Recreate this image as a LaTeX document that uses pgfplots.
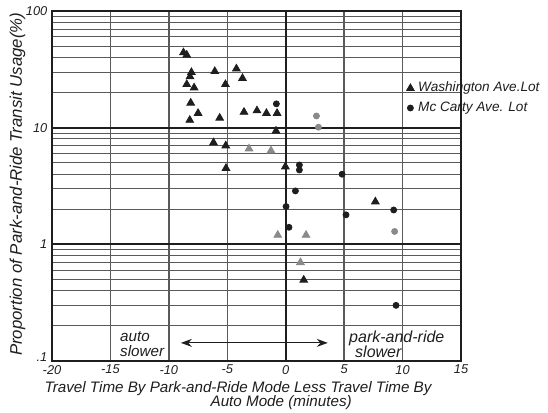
\documentclass[border=0pt]{standalone}
\usepackage{fontspec}
\setmainfont{Liberation Sans}
\usepackage{pgfplots}
\pgfplotsset{compat=1.18}
\usetikzlibrary{calc,arrows.meta}

\definecolor{ink}{HTML}{1e1e1e}
\definecolor{faded}{HTML}{8a8a8a}
\definecolor{gridc}{HTML}{5a5a5a}

\begin{document}
\begin{tikzpicture}
\begin{semilogyaxis}[
  scale only axis, width=204.5pt, height=175pt,
  xmin=-20, xmax=15, ymin=0.1, ymax=100,
  xtick={-20,-15,-10,-5,0,5,10,15},
  xticklabels={-20,-15,-10,-5,0,5,10,15},
  ytick={0.1,1,10,100}, yticklabels={\raisebox{4pt}{.1},1,10,100},
  minor ytick={0.2,0.3,0.4,0.5,0.6,0.7,0.8,0.9,2,3,4,5,6,7,8,9,20,30,40,50,60,70,80,90},
  xmajorgrids, ymajorgrids, yminorgrids,
  major x grid style={gridc, line width=0.7pt},
  major y grid style={ink, line width=1pt},
  minor y grid style={gridc, line width=0.5pt},
  major tick length=0pt, minor tick length=0pt,
  axis line style={ink, line width=1pt},
  tick label style={font=\fontsize{6.4}{7}\selectfont\itshape, text=ink},
  /pgf/number format/assume math mode=true,
  xticklabel style={yshift=1.5pt},
  yticklabel style={xshift=1.2pt},
  ylabel={Proportion of Park-and-Ride Transit Usage(\%)},
  ylabel style={at={(rel axis cs:-0.084,0.505)}, anchor=center,
    font=\fontsize{8.4}{9}\selectfont\itshape, text=ink},
  xlabel={Travel Time By Park-and-Ride Mode Less Travel Time By\\\hspace*{83pt}Auto Mode (minutes)},
  xlabel style={at={(rel axis cs:0.455,-0.056)}, anchor=north, align=left,
    font=\fontsize{7.6}{7.4}\selectfont\itshape, text=ink, inner sep=0pt},
  legend style={at={(rel axis cs:0.866,0.81)}, anchor=north west, draw=none, fill=none,
    font=\fontsize{6.8}{9}\selectfont\itshape, text=ink, row sep=-0.5pt,
    inner sep=0pt},
  legend cell align=left,
  clip=false,
]
\coordinate (bl) at (rel axis cs:0,0);
\coordinate (tr) at (rel axis cs:1,1);
\draw[ink, line width=1.1pt] (axis cs:0,0.1) -- (axis cs:0,100);

% Washington Ave. Lot
\addplot[only marks, mark=triangle*, mark size=2.2pt, draw=ink, fill=ink] coordinates {
  (-8.75,44.0) (-8.47,42.0) (-8.07,29.8) (-8.19,27.4) (-6.07,30.4) (-4.22,32.0)
  (-3.70,26.5) (-8.47,23.5) (-7.84,22.0) (-5.16,23.5) (-8.13,16.3) (-7.50,13.3)
  (-8.21,11.6) (-5.65,12.1) (-3.57,13.6) (-2.46,14.0) (-1.65,13.3) (-0.74,13.3)
  (-0.83,9.37) (-6.18,7.44) (-5.13,7.01) (-5.11,4.49) (-0.03,4.63) (7.67,2.32)
  (1.54,0.495)
};
\addlegendentry{Washington Ave.Lot}
% McCarty Ave. Lot
\addplot[only marks, mark=*, mark size=1.5pt, draw=ink, fill=ink] coordinates {
  (-0.80,16.0) (1.17,4.79) (1.17,4.34) (4.82,3.99) (0.83,2.87) (0.03,2.11)
  (9.24,1.97) (5.16,1.79) (0.28,1.40) (9.44,0.30)
};
\addlegendentry{Mc Carty Ave. Lot}
% faded points
\addplot[only marks, mark=triangle*, mark size=2.2pt, draw=faded, fill=faded, forget plot] coordinates {
  (-3.14,6.6) (-1.26,6.35) (-0.68,1.2) (1.74,1.2) (1.26,0.70)
};
\addplot[only marks, mark=*, mark size=1.5pt, draw=faded, fill=faded, forget plot] coordinates {
  (2.63,12.6) (2.80,10.1) (9.32,1.29)
};

\node[anchor=west, align=left, inner sep=0pt, text=ink,
  font=\fontsize{7.6}{7.6}\selectfont\itshape] at (axis cs:-14.2,0.139) {auto\\slower};
\node[anchor=west, align=left, inner sep=0pt, text=ink,
  font=\fontsize{8}{7.6}\selectfont\itshape] at (axis cs:5.4,0.139) {park-and-ride\\\hspace*{3pt}slower};
\draw[ink, line width=0.6pt, {Stealth[length=5.5pt,width=4pt]}-{Stealth[length=5.5pt,width=4pt]}]
  (axis cs:-8.97,0.143) -- (axis cs:3.6,0.143);
\end{semilogyaxis}
\pgfresetboundingbox
\path ($(bl)+(-26pt,-25.5pt)$) rectangle ($(tr)+(43.5pt,5.5pt)$);
\end{tikzpicture}
\end{document}
